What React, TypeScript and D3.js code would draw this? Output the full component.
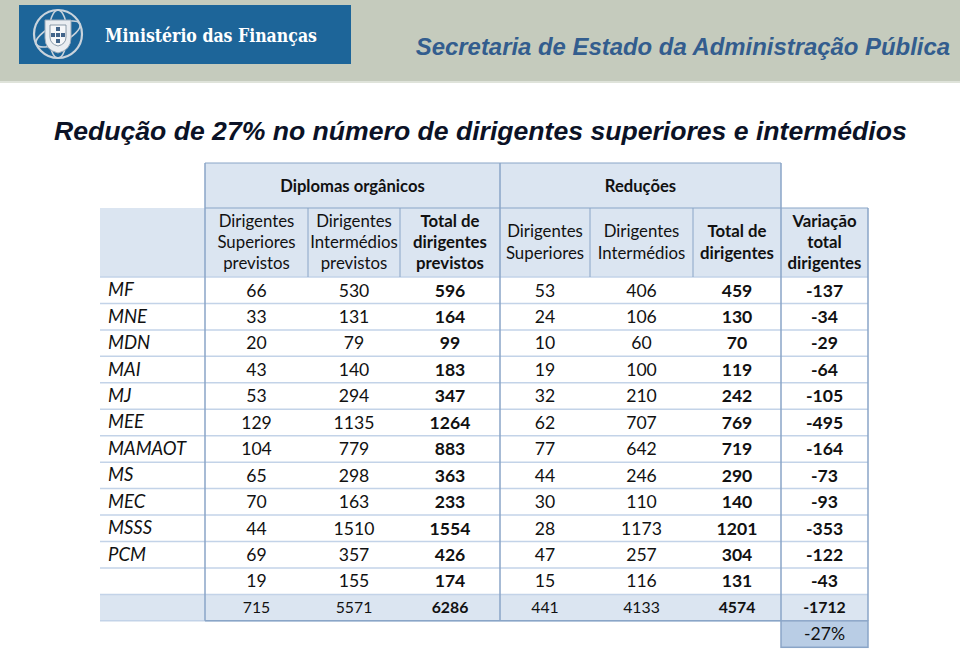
import React from "react";
import * as d3 from "d3";

const ministries = ["MF", "MNE", "MDN", "MAI", "MJ", "MEE", "MAMAOT", "MS", "MEC", "MSSS", "PCM", "", ""];
const supPrev = [66, 33, 20, 43, 53, 129, 104, 65, 70, 44, 69, 19, 715];
const intPrev = [530, 131, 79, 140, 294, 1135, 779, 298, 163, 1510, 357, 155, 5571];
const totPrev = [596, 164, 99, 183, 347, 1264, 883, 363, 233, 1554, 426, 174, 6286];
const supRed = [53, 24, 10, 19, 32, 62, 77, 44, 30, 28, 47, 15, 441];
const intRed = [406, 106, 60, 100, 210, 707, 642, 246, 110, 1173, 257, 116, 4133];
const totRed = [459, 130, 70, 119, 242, 769, 719, 290, 140, 1201, 304, 131, 4574];
const variacao = [-137, -34, -29, -64, -105, -495, -164, -73, -93, -353, -122, -43, -1712];
const pctLabel = "-27%";

const groupHeaders = ["Diplomas orgânicos", "Reduções"];
const colHeaders = [
  { lines: ["Dirigentes", "Superiores", "previstos"], bold: false },
  { lines: ["Dirigentes", "Intermédios", "previstos"], bold: false },
  { lines: ["Total de", "dirigentes", "previstos"], bold: true },
  { lines: ["Dirigentes", "Superiores"], bold: false },
  { lines: ["Dirigentes", "Intermédios"], bold: false },
  { lines: ["Total de", "dirigentes"], bold: true },
  { lines: ["Variação", "total", "dirigentes"], bold: true },
];
const columns = [supPrev, intPrev, totPrev, supRed, intRed, totRed, variacao];
const boldCols = [false, false, true, false, false, true, true];

const W = 960;
const H = 651;
const colEdges = [205, 308, 400, 500, 590, 693, 781, 868];
const tableLeft = 100;
const FONT = "Lato, 'Open Sans', sans-serif";
const light = "#dbe5f1";
const border = "#8aa5c7";
const sep = "#c3d3e8";

export default function App() {
  const nRows = ministries.length;
  const rowTop = 277;
  const rowH = 26.45;
  const y = d3.scaleLinear().domain([0, nRows]).range([rowTop, rowTop + nRows * rowH]);
  const colCenter = (i: number) => (colEdges[i] + colEdges[i + 1]) / 2;
  const hdr1Top = 163;
  const hdr2Top = 208;
  const hdrBottom = rowTop;
  const tableRight = colEdges[colEdges.length - 1];
  const lastIdx = nRows - 1;

  return (
    <svg width={W} height={H} style={{ position: "absolute", left: 0, top: 0, background: "#fff" }}>
      {/* banner */}
      <rect x={0} y={0} width={W} height={82} fill="#c5cbbd" />
      <rect x={0} y={81} width={W} height={2} fill="#dfe3da" />
      <rect x={19} y={5} width={332} height={59} fill="#1d6599" />
      <g transform="translate(58,34)">
        <circle r={24} fill="none" stroke="#c9d3dc" strokeWidth={2.2} />
        <ellipse rx={24} ry={9} fill="none" stroke="#c9d3dc" strokeWidth={1.6} transform="rotate(-25)" />
        <ellipse rx={9} ry={24} fill="none" stroke="#c9d3dc" strokeWidth={1.6} />
        <path d="M-13,-14 L13,-14 L13,4 Q13,16 0,19 Q-13,16 -13,4 Z" fill="#e9edf1" stroke="#9aa9b8" strokeWidth={1} />
        <path d="M-8,-9 L8,-9 L8,3 Q8,10 0,12 Q-8,10 -8,3 Z" fill="#f5f7f9" stroke="#6f8396" strokeWidth={0.8} />
        <rect x={-2} y={-7} width={4} height={4} fill="#41648a" />
        <rect x={-2} y={-1} width={4} height={4} fill="#41648a" />
        <rect x={-2} y={5} width={4} height={4} fill="#41648a" />
        <rect x={-7} y={-1} width={4} height={4} fill="#41648a" />
        <rect x={3} y={-1} width={4} height={4} fill="#41648a" />
      </g>
      <text x={105} y={42} fill="#fff" fontFamily="'DejaVu Serif', 'Liberation Serif', serif" fontWeight="bold" fontSize={19} textLength={212} lengthAdjust="spacingAndGlyphs">
        Ministério das Finanças
      </text>
      <text x={950} y={55} textAnchor="end" fill="#335d8e" fontFamily="'Liberation Sans', Arial, sans-serif" fontWeight="bold" fontStyle="italic" fontSize={23.9}>
        Secretaria de Estado da Administração Pública
      </text>

      {/* title */}
      <text x={54} y={140} fill="#0b1226" fontFamily="'Liberation Sans', Arial, sans-serif" fontWeight="bold" fontStyle="italic" fontSize={26.6}>
        Redução de 27% no número de dirigentes superiores e intermédios
      </text>

      {/* header backgrounds */}
      <rect x={colEdges[0]} y={hdr1Top} width={colEdges[6] - colEdges[0]} height={hdr2Top - hdr1Top} fill={light} />
      <rect x={tableLeft} y={hdr2Top} width={tableRight - tableLeft} height={hdrBottom - hdr2Top} fill={light} />
      {/* total row background */}
      <rect x={tableLeft} y={y(lastIdx)} width={tableRight - tableLeft} height={rowH} fill={light} />
      {/* pct cell */}
      <rect x={colEdges[6]} y={y(nRows)} width={colEdges[7] - colEdges[6]} height={rowH} fill="#b9cde5" />

      {/* row separators */}
      {d3.range(0, nRows + 1).map((i) => (
        <line key={"s" + i} x1={tableLeft} x2={tableRight} y1={y(i)} y2={y(i)} stroke={sep} strokeWidth={1.5} />
      ))}

      {/* header borders */}
      <line x1={colEdges[0]} x2={colEdges[6]} y1={hdr1Top} y2={hdr1Top} stroke={border} strokeWidth={1.2} />
      <line x1={colEdges[0]} x2={tableRight} y1={hdr2Top} y2={hdr2Top} stroke={border} strokeWidth={1.2} />
      {[1, 2, 4, 5].map((i) => (
        <line key={"hv" + i} x1={colEdges[i]} x2={colEdges[i]} y1={hdr2Top} y2={hdrBottom} stroke={border} strokeWidth={1} />
      ))}
      {/* main verticals */}
      {[0, 3, 6].map((i) => (
        <line key={"mv" + i} x1={colEdges[i]} x2={colEdges[i]} y1={hdr1Top} y2={y(nRows)} stroke={border} strokeWidth={1.5} />
      ))}
      <line x1={tableRight} x2={tableRight} y1={hdr2Top} y2={y(nRows)} stroke={border} strokeWidth={1.5} />
      <line x1={colEdges[0]} x2={colEdges[6]} y1={y(nRows)} y2={y(nRows)} stroke={border} strokeWidth={1.5} />
      {/* pct cell border */}
      <rect x={colEdges[6]} y={y(nRows)} width={colEdges[7] - colEdges[6]} height={rowH} fill="none" stroke={border} strokeWidth={1.5} />

      {/* group headers */}
      <text x={(colEdges[0] + colEdges[3]) / 2} y={192} textAnchor="middle" fontFamily={FONT} fontWeight="bold" fontSize={16.6} fill="#111">
        {groupHeaders[0]}
      </text>
      <text x={(colEdges[3] + colEdges[6]) / 2} y={192} textAnchor="middle" fontFamily={FONT} fontWeight="bold" fontSize={16.6} fill="#111">
        {groupHeaders[1]}
      </text>

      {/* column headers */}
      {colHeaders.map((h, i) => {
        const lh = 21.3;
        const mid = (hdr2Top + hdrBottom) / 2;
        const start = mid - ((h.lines.length - 1) * lh) / 2 + 5.5;
        return (
          <text key={"ch" + i} textAnchor="middle" fontFamily={FONT} fontWeight={h.bold ? "bold" : "normal"} fontSize={16.8} fill="#111">
            {h.lines.map((l, j) => (
              <tspan key={j} x={colCenter(i)} y={start + j * lh}>
                {l}
              </tspan>
            ))}
          </text>
        );
      })}

      {/* row labels */}
      {ministries.map((m, r) => (
        <text key={"m" + r} x={108} y={y(r) + rowH / 2 + 6} fontFamily={FONT} fontStyle="italic" fontSize={18.5} fill="#111">
          {m}
        </text>
      ))}

      {/* cells */}
      {columns.map((col, c) =>
        col.map((v, r) => (
          <text
            key={"c" + c + "-" + r}
            x={colCenter(c)}
            y={y(r) + rowH / 2 + (r === lastIdx ? 5.5 : 6.3)}
            textAnchor="middle"
            fontFamily={FONT}
            fontWeight={boldCols[c] ? "bold" : "normal"}
            fontSize={r === lastIdx ? 15.8 : 17.6}
            fill="#111"
          >
            {v}
          </text>
        ))
      )}

      <text x={colCenter(6)} y={y(nRows) + rowH / 2 + 6.3} textAnchor="middle" fontFamily={FONT} fontSize={17.6} fill="#111">
        {pctLabel}
      </text>
    </svg>
  );
}
